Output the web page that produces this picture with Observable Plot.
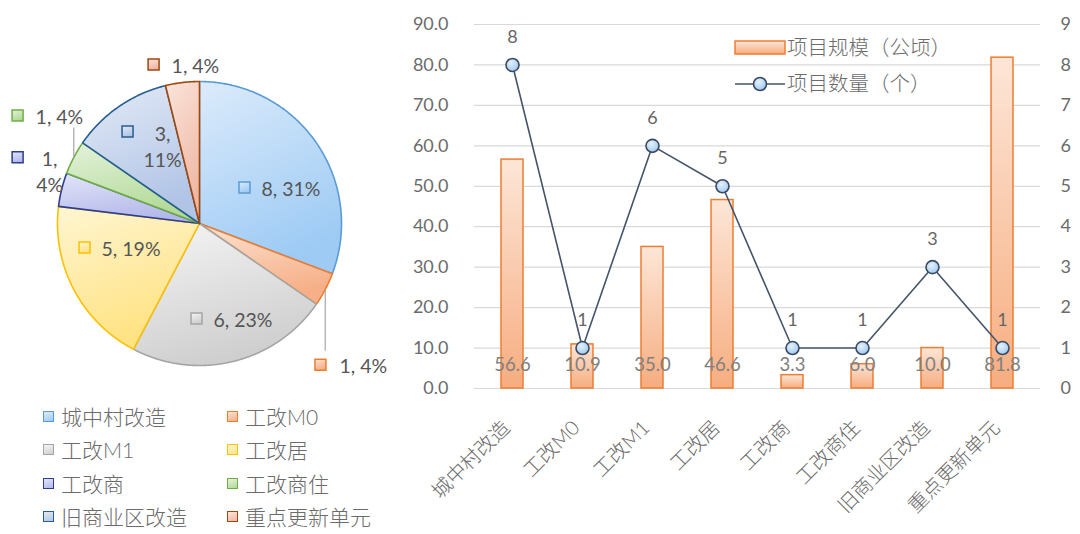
<!DOCTYPE html>
<html><head><meta charset="utf-8">
<script src="https://cdn.jsdelivr.net/npm/d3@7"></script>
<script src="https://cdn.jsdelivr.net/npm/@observablehq/plot@0.6"></script>
<style>
body{margin:0;background:#fff;}
#root{position:relative;width:1080px;height:534px;overflow:hidden;font-family:Lato,"Noto Sans CJK SC",sans-serif;color:#666;}
.abs{position:absolute;}
.lg{position:absolute;display:flex;align-items:center;font-size:21px;line-height:21px;color:#6b6b6b;white-space:nowrap;font-weight:300;}
.sw{width:9px;height:9px;border:1.5px solid;margin-right:7px;}
</style></head><body><div id="root"></div>
<script>
// ---------------- data ----------------
const categories = ["城中村改造","工改M0","工改M1","工改居","工改商","工改商住","旧商业区改造","重点更新单元"];
const areaHa = [56.6, 10.9, 35.0, 46.6, 3.3, 6.0, 10.0, 81.8];   // 项目规模（公顷）
const counts = [8, 1, 6, 5, 1, 1, 3, 1];                          // 项目数量（个）
const shareLabels = ["31%","4%","23%","19%","4%","4%","11%","4%"];
const leftTicks = [0,10,20,30,40,50,60,70,80,90];
const rightTicks = [0,1,2,3,4,5,6,7,8,9];
const seriesNames = ["项目规模（公顷）","项目数量（个）"];

// ---------------- styles ----------------
const sliceStroke = ["#5B9BD5","#ED7D31","#A5A5A5","#FFC000","#2E3E8C","#70AD47","#255E91","#9E480E"];
const sliceLight  = ["#DCEBFB","#FCE3D3","#F5F5F5","#FFF6D2","#E3E5F8","#E4F2DB","#E3EAF6","#FBE4DB"];
const sliceDark   = ["#9ECBF4","#F6AF86","#CFCFCF","#FFE282","#B3B8EA","#B2DA97","#B1C4E6","#EFB7A3"];
// label layout for pie: angle (deg, clockwise from top), radius (in pie radii), text offset
const pieLabelLayout = [
  {a:51.3, r:0.406, dx:17, dy:0, anchor:"start", multi:false},
  {a:139.4, r:1.309, dx:19, dy:0, anchor:"start", multi:false},
  {a:181.8, r:0.669, dx:17, dy:0, anchor:"start", multi:false},
  {a:258.2, r:0.827, dx:17, dy:0, anchor:"start", multi:false},
  {a:290.0, r:1.363, dx:32, dy:13, anchor:"middle", multi:true},
  {a:300.7, r:1.49, dx:18, dy:0, anchor:"start", multi:false},
  {a:322.0, r:0.823, dx:35, dy:14, anchor:"middle", multi:true},
  {a:343.9, r:1.166, dx:18, dy:0, anchor:"start", multi:false}
];
const leaders = [{i:1, toLabelPx: 14}, {i:5, toLabelPx: -12}];

const root = document.getElementById("root");

// ---------------- gradient defs ----------------
const defs = d3.select(root).append("svg").attr("width",0).attr("height",0)
  .style("position","absolute").append("defs");
categories.forEach((c,i)=>{
  const g = defs.append("linearGradient").attr("id","pg"+i)
    .attr("x1","0").attr("y1","0").attr("x2","0.35").attr("y2","1");
  g.append("stop").attr("offset","0%").attr("stop-color",sliceLight[i]);
  g.append("stop").attr("offset","100%").attr("stop-color",sliceDark[i]);
});
{
  const g = defs.append("linearGradient").attr("id","barGrad").attr("x1","0").attr("y1","0").attr("x2","0").attr("y2","1");
  g.append("stop").attr("offset","0%").attr("stop-color","#FDE6D7");
  g.append("stop").attr("offset","100%").attr("stop-color","#F6AD80");
  const r = defs.append("radialGradient").attr("id","dotGrad").attr("cx","0.4").attr("cy","0.35").attr("r","0.7");
  r.append("stop").attr("offset","0%").attr("stop-color","#E6F1FB");
  r.append("stop").attr("offset","100%").attr("stop-color","#9CC8F0");
}

// ---------------- pie ----------------
const arcs = d3.pie().sort(null).value(d=>d)(counts);
const deg = Math.PI/180;
const pieMarks = arcs.map((a,i)=>{
  const pts = [{x:0,y:0}];
  const n = Math.max(2, Math.ceil((a.endAngle-a.startAngle)/(0.5*deg)));
  for (let k=0;k<=n;k++){
    const t = a.startAngle + (a.endAngle-a.startAngle)*k/n;
    pts.push({x:Math.sin(t), y:Math.cos(t)});
  }
  pts.push({x:0,y:0});
  return Plot.line(pts,{x:"x",y:"y",fill:`url(#pg${i})`,stroke:sliceStroke[i],strokeWidth:1.6,strokeLinejoin:"round"});
});
const pieLabels = categories.map((c,i)=>{
  const L = pieLabelLayout[i];
  return {i, x:L.r*Math.sin(L.a*deg), y:L.r*Math.cos(L.a*deg),
    text: L.multi ? `${counts[i]},\n${shareLabels[i]}` : `${counts[i]}, ${shareLabels[i]}`};
});
const leaderData = leaders.map(L=>{
  const a = arcs[L.i]; const m = (a.startAngle+a.endAngle)/2;
  const lab = pieLabels[L.i];
  return {x1:Math.sin(m), y1:Math.cos(m), x2:Math.sin(m), y2: lab.y + L.toLabelPx/142};
});
const piePlot = Plot.plot({
  width:400, height:400, marginLeft:57, marginRight:59, marginTop:81, marginBottom:35,
  x:{domain:[-1,1], axis:null}, y:{domain:[-1,1], axis:null},
  style:{background:"transparent", overflow:"visible", fontFamily:"Lato,'Noto Sans CJK SC',sans-serif"},
  marks:[
    ...pieMarks,
    Plot.link(leaderData,{x1:"x1",y1:"y1",x2:"x2",y2:"y2",stroke:"#A6A6A6",strokeWidth:1.2}),
    ...pieLabels.map(d=>Plot.dot([d],{x:"x",y:"y",symbol:"square",r:6.2,fill:`url(#pg${d.i})`,stroke:sliceStroke[d.i],strokeWidth:1.5})),
    ...pieLabels.map(d=>{const L=pieLabelLayout[d.i];
      return Plot.text([d],{x:"x",y:"y",text:"text",dx:L.dx,dy:L.dy,textAnchor:L.anchor,fontSize:19.5,fill:"#555",lineHeight:1.35});})
  ]
});
piePlot.classList.add("abs"); piePlot.style.left="0px"; piePlot.style.top="0px";
root.appendChild(piePlot);

// pie legend
categories.forEach((c,i)=>{
  const col = i%2, row = Math.floor(i/2);
  const div = document.createElement("div");
  div.className="lg";
  div.style.left = (col? 227:43)+"px";
  div.style.top = (406 + row*33.3)+"px";
  div.innerHTML = `<div class="sw" style="border-color:${sliceStroke[i]};background:linear-gradient(160deg,${sliceLight[i]},${sliceDark[i]})"></div><span>${c}</span>`;
  root.appendChild(div);
});

// ---------------- bar + line ----------------
const rows = categories.map((c,i)=>({cat:c, ha:areaHa[i], n:counts[i]}));
const yRight = d=>d*10; // right axis 0–9 mapped onto left axis 0–90
const barPlot = Plot.plot({
  width:680, height:534, marginLeft:74, marginRight:40, marginTop:24, marginBottom:146,
  x:{domain:categories, paddingInner:0.69, paddingOuter:0.345, label:null},
  y:{domain:[0,90], label:null},
  style:{background:"transparent", overflow:"visible", color:"#6b6b6b", fontFamily:"Lato,'Noto Sans CJK SC',sans-serif"},
  marks:[
    Plot.ruleY(leftTicks,{stroke:"#D9D9D9",strokeWidth:1.2}),
    Plot.axisY(leftTicks,{anchor:"left",tickSize:0,tickPadding:26,tickFormat:d=>d.toFixed(1),label:null,fontSize:18}),
    Plot.axisY(rightTicks.map(yRight),{anchor:"right",tickSize:0,tickPadding:20,tickFormat:d=>String(d/10),label:null,fontSize:18}),
    Plot.axisX({tickSize:0,tickRotate:-45,tickPadding:36,dx:-6,label:null,fontSize:20,fontWeight:300}),
    Plot.barY(rows,{x:"cat",y:"ha",fill:"url(#barGrad)",stroke:"#ED7D31",strokeWidth:1.5}),
    Plot.text(rows,{x:"cat",y:0,text:d=>d.ha.toFixed(1),dy:-23,fontSize:18.5,fill:"#808080"}),
    Plot.line(rows,{x:"cat",y:d=>yRight(d.n),stroke:"#44546A",strokeWidth:1.6}),
    Plot.dot(rows,{x:"cat",y:d=>yRight(d.n),r:6.5,fill:"url(#dotGrad)",stroke:"#3A4A60",strokeWidth:1.6}),
    Plot.text(rows,{x:"cat",y:d=>yRight(d.n),text:d=>String(d.n),dy:-28,fontSize:18,fill:"#666"})
  ]
});
barPlot.classList.add("abs"); barPlot.style.left="400px"; barPlot.style.top="0px";
root.appendChild(barPlot);

// bar/line legend
const lg = d3.select(root).append("svg").attr("class","abs")
  .style("left","730px").style("top","34px").attr("width",240).attr("height",66)
  .style("overflow","visible");
lg.append("rect").attr("x",5).attr("y",7).attr("width",50).attr("height",13)
  .attr("fill","url(#barGrad)").attr("stroke","#ED7D31").attr("stroke-width",1.5);
lg.append("text").attr("x",57).attr("y",14).attr("dy","0.35em").attr("font-size",20.5).attr("fill","#6b6b6b")
  .attr("font-weight",300).text(seriesNames[0]);
lg.append("line").attr("x1",5).attr("x2",55).attr("y1",50).attr("y2",50).attr("stroke","#44546A").attr("stroke-width",1.6);
lg.append("circle").attr("cx",30).attr("cy",50).attr("r",6.5).attr("fill","url(#dotGrad)").attr("stroke","#3A4A60").attr("stroke-width",1.6);
lg.append("text").attr("x",57).attr("y",50).attr("dy","0.35em").attr("font-size",20.5).attr("fill","#6b6b6b")
  .attr("font-weight",300).text(seriesNames[1]);
</script></body></html>
